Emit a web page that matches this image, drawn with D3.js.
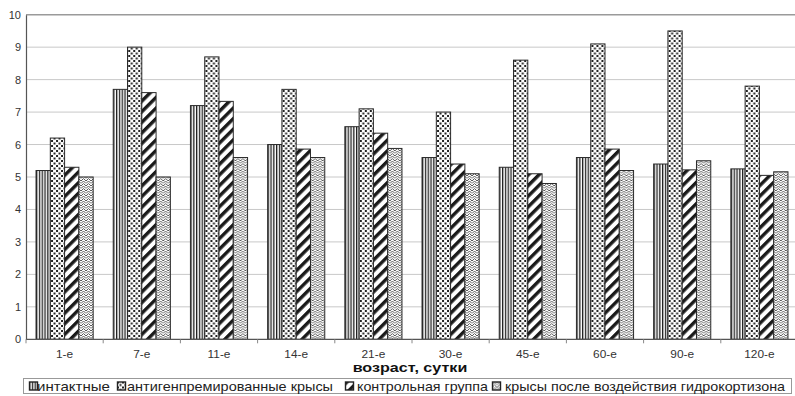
<!DOCTYPE html>
<html>
<head>
<meta charset="utf-8">
<script src="https://cdn.jsdelivr.net/npm/d3@7/dist/d3.min.js"></script>
<style>
  html, body { margin: 0; padding: 0; background: #fff; }
  svg { display: block; font-family: "Liberation Sans", Arial, sans-serif; }
</style>
</head>
<body>
<svg id="chart" width="795" height="396"></svg>
<script>
// Age groups (days) and measured values for four groups of rats
const categories = ["1-е", "7-е", "11-е", "14-е", "21-е", "30-е", "45-е", "60-е", "90-е", "120-е"];
const seriesNames = ["интактные", "антигенпремированные крысы", "контрольная группа", "крысы после воздействия гидрокортизона"];
const intact      = [5.2, 7.7, 7.2, 6.0, 6.55, 5.6, 5.3, 5.6, 5.4, 5.25];
const antigen     = [6.2, 9.0, 8.7, 7.7, 7.1, 7.0, 8.6, 9.1, 9.5, 7.8];
const control     = [5.3, 7.6, 7.33, 5.86, 6.35, 5.4, 5.1, 5.86, 5.22, 5.05];
const cortisone   = [5.0, 5.0, 5.6, 5.6, 5.88, 5.1, 4.8, 5.2, 5.5, 5.16];
const yTicks = [0, 1, 2, 3, 4, 5, 6, 7, 8, 9, 10];
const xTitle = "возраст, сутки";

const seriesValues = [intact, antigen, control, cortisone];
const patternIds = ["pat-vert", "pat-dots", "pat-diag", "pat-zig"];

const svg = d3.select("#chart");
const W = 795, H = 396;
const plotLeft = 26, plotRight = 798, plotTop = 14.7, plotBottom = 339.3;

// ---- fill patterns ----
const defs = svg.append("defs");

const pv = defs.append("pattern").attr("id", "pat-vert").attr("patternUnits", "userSpaceOnUse")
  .attr("width", 2.8).attr("height", 3);
pv.append("rect").attr("width", 2.8).attr("height", 3).attr("fill", "#fff");
pv.append("rect").attr("x", 0).attr("width", 1.3).attr("height", 3).attr("fill", "#222");

const pd = defs.append("pattern").attr("id", "pat-dots").attr("patternUnits", "userSpaceOnUse")
  .attr("width", 5).attr("height", 5);
pd.append("rect").attr("width", 5).attr("height", 5).attr("fill", "#fff");
pd.append("rect").attr("x", 0).attr("y", 0).attr("width", 2).attr("height", 2).attr("fill", "#222");
pd.append("rect").attr("x", 2.5).attr("y", 2.5).attr("width", 2).attr("height", 2).attr("fill", "#222");

const pg = defs.append("pattern").attr("id", "pat-diag").attr("patternUnits", "userSpaceOnUse")
  .attr("width", 7.5).attr("height", 7.5).attr("patternTransform", "rotate(45)");
pg.append("rect").attr("width", 7.5).attr("height", 7.5).attr("fill", "#fff");
pg.append("rect").attr("x", 0).attr("width", 3.4).attr("height", 7.5).attr("fill", "#1a1a1a");

const pz = defs.append("pattern").attr("id", "pat-zig").attr("patternUnits", "userSpaceOnUse")
  .attr("width", 5).attr("height", 5);
pz.append("rect").attr("width", 5).attr("height", 5).attr("fill", "#fff");
pz.append("path").attr("d", "M0,3.5 L2.5,1 L5,3.5 M0,6 L2.5,3.5 L5,6 M0,1 L2.5,-1.5 L5,1")
  .attr("fill", "none").attr("stroke", "#555").attr("stroke-width", 1);

// ---- scales ----
const x = d3.scaleBand().domain(categories).range([plotLeft, plotRight])
  .paddingInner(0.26).paddingOuter(0.13);
const xs = d3.scaleBand().domain(d3.range(seriesNames.length)).range([0, x.bandwidth()]);
const y = d3.scaleLinear().domain([0, 10]).range([plotBottom, plotTop]);

// ---- grid ----
svg.append("g").selectAll("line").data(yTicks.filter(t => t > 0)).join("line")
  .attr("x1", plotLeft).attr("x2", W)
  .attr("y1", d => y(d)).attr("y2", d => y(d))
  .attr("stroke", d => d === 10 ? "#9a9a9a" : "#c8c8c8")
  .attr("stroke-width", d => d === 10 ? 1.4 : 1);

// ---- bars ----
const groups = svg.append("g").selectAll("g").data(categories).join("g")
  .attr("transform", d => `translate(${x(d)},0)`);
groups.selectAll("rect")
  .data((c, i) => seriesValues.map((vals, s) => ({ s, v: vals[i] })))
  .join("rect")
  .attr("x", d => xs(d.s))
  .attr("width", xs.bandwidth())
  .attr("y", d => y(d.v))
  .attr("height", d => y(0) - y(d.v))
  .attr("fill", d => `url(#${patternIds[d.s]})`)
  .attr("stroke", "#2a2a2a")
  .attr("stroke-width", 1);

// ---- axes ----
const yAxis = svg.append("g").attr("transform", `translate(${plotLeft},0)`)
  .call(d3.axisLeft(y).tickValues(yTicks).tickSize(0).tickPadding(5).tickFormat(d3.format("d")));
yAxis.select(".domain").attr("stroke", "#555").attr("stroke-width", 1.2);
yAxis.selectAll("text").attr("font-size", 11).attr("fill", "#333")
  .attr("font-family", "Liberation Sans, Arial, sans-serif");

// category boundary ticks along the baseline
const step = x.step();
const bounds = d3.range(categories.length + 1).map(i => plotLeft + i * step);
svg.append("line").attr("x1", plotLeft).attr("x2", W).attr("y1", y(0)).attr("y2", y(0))
  .attr("stroke", "#555").attr("stroke-width", 1.2);
svg.append("g").selectAll("line").data(bounds).join("line")
  .attr("x1", d => d).attr("x2", d => d)
  .attr("y1", y(0)).attr("y2", y(0) + 4)
  .attr("stroke", "#888");

svg.append("g").selectAll("text").data(categories).join("text")
  .attr("transform", d => `translate(${x(d) + x.bandwidth() / 2},357.8) scale(1.08,1)`)
  .attr("text-anchor", "middle")
  .attr("font-size", 11).attr("fill", "#333")
  .text(d => d);

svg.append("text").attr("transform", "translate(410,372) scale(1.24,1)")
  .attr("text-anchor", "middle").attr("font-size", 13).attr("font-weight", "bold")
  .attr("fill", "#111").text(xTitle);

// ---- legend ----
const lg = svg.append("g");
lg.append("rect").attr("x", 23.5).attr("y", 378.5).attr("width", 768).attr("height", 15)
  .attr("fill", "#fff").attr("stroke", "#999");
const legendIconX = [29, 117, 345, 492];
const legendTextX = [37, 127, 357, 505];
const legendTextW = [73, 206, 131, 280];
const items = lg.selectAll("g.item").data(seriesNames).join("g")
  .attr("transform", (d, i) => `translate(${legendIconX[i]},381.5)`);
items.append("rect").attr("width", 8).attr("height", 8).attr("x", 0.5).attr("y", 0.5)
  .attr("fill", (d, i) => `url(#${patternIds[i]})`).attr("stroke", "#222").attr("stroke-width", 1.4);
items.append("text")
  .attr("x", (d, i) => legendTextX[i] - legendIconX[i]).attr("y", 9.5)
  .attr("font-size", 13).attr("fill", "#222")
  .attr("textLength", (d, i) => legendTextW[i])
  .attr("lengthAdjust", "spacingAndGlyphs")
  .text(d => d);
</script>
</body>
</html>
